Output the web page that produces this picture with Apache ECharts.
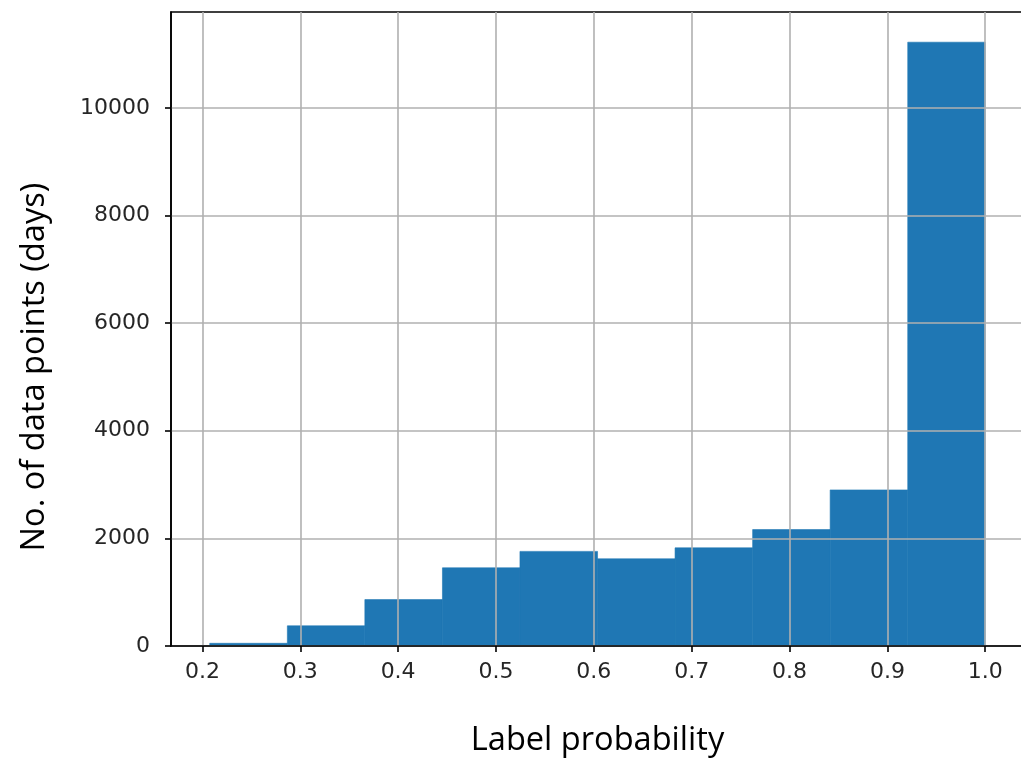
<!DOCTYPE html>
<html>
<head>
<meta charset="utf-8">
<script src="https://cdn.jsdelivr.net/npm/echarts@6/dist/echarts.min.js"></script>
<style>
  html, body { margin: 0; padding: 0; background: #ffffff; }
  #chart { width: 1021px; height: 763px; }
</style>
</head>
<body>
<div id="chart"></div>
<script>
// Histogram bin edges (label probability) and counts per bin
const binEdges = [0.2075, 0.2868, 0.3660, 0.4453, 0.5245, 0.6038, 0.6830, 0.7623, 0.8415, 0.9208, 1.0];
const binCounts = [50, 375, 862, 1453, 1758, 1620, 1824, 2163, 2900, 11219];

// Tick labels
const xTicks = [0.2, 0.3, 0.4, 0.5, 0.6, 0.7, 0.8, 0.9, 1.0];
const yTicks = [0, 2000, 4000, 6000, 8000, 10000];

// Axis titles
const xTitle = 'Label probability';
const yTitle = 'No. of data points (days)';

// Axis extents
const xMin = 0.1679, xMax = 1.0396;
const yMin = 0, yMax = 11780;

const bins = binCounts.map((c, i) => [binEdges[i], binEdges[i + 1], c]);

const chart = echarts.init(document.getElementById('chart'), null, { renderer: 'canvas' });

const tickFont = { fontFamily: 'DejaVu Sans', fontSize: 22, color: '#262626' };
const titleFont = { fontFamily: 'Open Sans', fontSize: 32.6, color: '#000000' };
const gridLine = { show: true, lineStyle: { color: '#b0b0b0', width: 1.6 } };

chart.setOption({
  animation: false,
  backgroundColor: '#ffffff',
  grid: {
    left: 171, top: 12, width: 853, height: 634,
    outerBoundsMode: 'none',
    containLabel: false,
    show: true, borderColor: '#000000', borderWidth: 1.6, backgroundColor: 'transparent'
  },
  // vertical title sits a little below the plot's middle
  graphic: [{
    type: 'text',
    x: 35, y: 367,
    rotation: Math.PI / 2,
    style: {
      text: yTitle, align: 'center', verticalAlign: 'middle',
      font: '32.6px "Open Sans"', fill: '#000000'
    }
  }],
  xAxis: {
    type: 'value', min: xMin, max: xMax, z: 5,
    name: xTitle, nameLocation: 'middle', nameGap: 78,
    nameTextStyle: titleFont,
    axisLine: { show: true, onZero: false, lineStyle: { color: '#000000', width: 1.6 } },
    axisTick: { show: true, customValues: xTicks, length: 6, lineStyle: { color: '#000000', width: 1.6 } },
    axisLabel: { customValues: xTicks, margin: 15, formatter: v => Number(v).toFixed(1), ...tickFont },
    splitLine: gridLine
  },
  yAxis: {
    type: 'value', min: yMin, max: yMax, z: 5,
    axisLine: { show: true, lineStyle: { color: '#000000', width: 1.6 } },
    axisTick: { show: true, customValues: yTicks, length: 6, lineStyle: { color: '#000000', width: 1.6 } },
    axisLabel: { customValues: yTicks, margin: 21, formatter: v => String(v), ...tickFont },
    splitLine: gridLine
  },
  series: [{
    type: 'custom',
    data: bins,
    z: 2,
    renderItem: (params, api) => {
      const p0 = api.coord([api.value(0), api.value(2)]);
      const p1 = api.coord([api.value(1), 0]);
      return {
        type: 'rect',
        shape: { x: p0[0], y: p0[1], width: p1[0] - p0[0], height: p1[1] - p0[1] },
        style: { fill: '#1f77b4', stroke: '#1f77b4', lineWidth: 0.6 }
      };
    },
    encode: { x: [0, 1], y: 2 }
  }]
});
</script>
</body>
</html>
